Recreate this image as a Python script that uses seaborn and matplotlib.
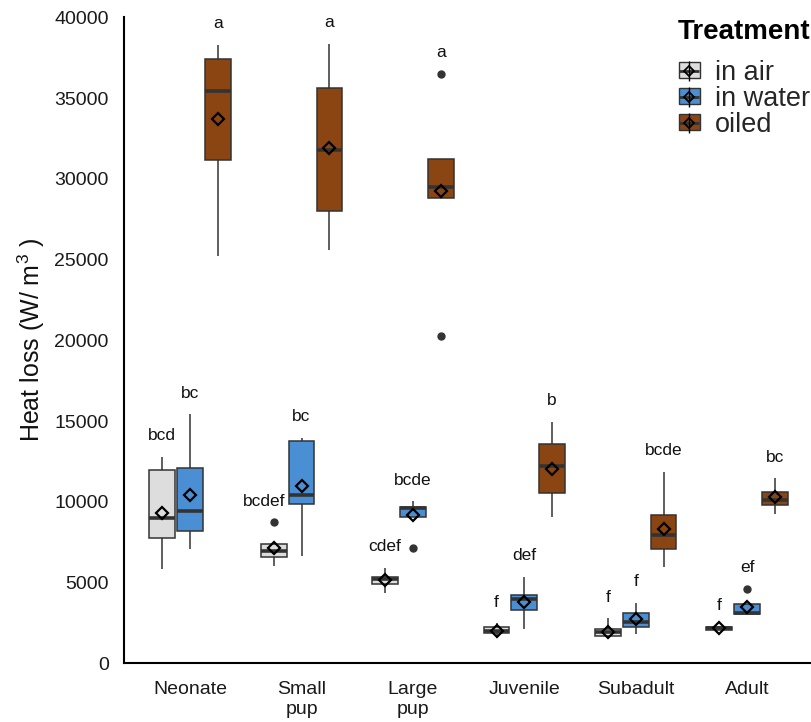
import numpy as np
import pandas as pd
import matplotlib
matplotlib.use("Agg")
import matplotlib.pyplot as plt
import seaborn as sns
from matplotlib.patches import Patch
from matplotlib.lines import Line2D
from matplotlib.legend_handler import HandlerTuple

# ---------------- data ----------------
ages = ["Neonate", "Small\npup", "Large\npup", "Juvenile", "Subadult", "Adult"]
treatments = ["in air", "in water", "oiled"]
colors = ["#DDDDDD", "#4A8FD3", "#8B4513"]

air_low      = [5855, 6040, 4332, 1547, 1547, 2040]
air_q1       = [7773, 6560, 4927, 1857, 1708, 2061]
air_median   = [9011, 6969, 5217, 2020, 1956, 2166]
air_q3       = [11963, 7364, 5341, 2247, 2141, 2265]
air_high     = [12786, 7400, 5917, 2476, 2780, 2290]
air_mean     = [9302, 7117, 5155, 2020, 1956, 2166]
air_out_low  = [None, None, None, None, None, None]
air_out_high = [None, 8726, None, None, None, None]
air_letters  = ["bcd", "bcdef", "cdef", "f", "f", "f"]

water_low      = [7055, 6641, 9074, 2141, 1813, 3051]
water_q1       = [8188, 9879, 9074, 3299, 2265, 3051]
water_median   = [9445, 10436, 9631, 3961, 2537, 3094]
water_q3       = [12066, 13758, 9693, 4227, 3131, 3670]
water_high     = [15429, 13963, 10045, 5360, 3750, 3670]
water_mean     = [10436, 10954, 9160, 3775, 2723, 3466]
water_out_low  = [None, None, 7155, None, None, None]
water_out_high = [None, None, None, None, None, 4630]
water_letters  = ["bc", "bc", "bcde", "def", "f", "ef"]

oiled_low      = [25227, 25620, 28840, 9054, 5960, 9240]
oiled_q1       = [31191, 28011, 28840, 10521, 7093, 9797]
oiled_median   = [35437, 31768, 29478, 12210, 7940, 10106]
oiled_q3       = [37399, 35624, 31211, 13553, 9160, 10620]
oiled_high     = [38308, 38370, 31211, 14953, 11858, 11450]
oiled_mean     = [33730, 31892, 29250, 12044, 8334, 10273]
oiled_out_low  = [None, None, 20257, None, None, None]
oiled_out_high = [None, None, 36513, None, None, None]
oiled_letters  = ["a", "a", "a", "b", "bcde", "bc"]

yticks = [0, 5000, 10000, 15000, 20000, 25000, 30000, 35000, 40000]

# ---------------- build tables ----------------
series = {
    "in air": (air_low, air_q1, air_median, air_q3, air_high, air_out_low, air_out_high, air_mean, air_letters),
    "in water": (water_low, water_q1, water_median, water_q3, water_high, water_out_low, water_out_high, water_mean, water_letters),
    "oiled": (oiled_low, oiled_q1, oiled_median, oiled_q3, oiled_high, oiled_out_low, oiled_out_high, oiled_mean, oiled_letters),
}

rows, mean_rows, letter_rows = [], [], []
for t in treatments:
    lo, q1, med, q3, hi, olo, ohi, mn, let = series[t]
    for i, age in enumerate(ages):
        vals = [olo[i] if olo[i] is not None else lo[i], lo[i], q1[i],
                med[i], med[i], med[i], q3[i], hi[i],
                ohi[i] if ohi[i] is not None else hi[i]]
        for v in vals:
            rows.append({"age": age, "treatment": t, "value": v})
        mean_rows.append({"age": age, "treatment": t, "mean": mn[i]})
        top = max(hi[i], ohi[i] if ohi[i] is not None else hi[i])
        letter_rows.append((i, treatments.index(t), top, let[i]))

df = pd.DataFrame(rows)
mean_df = pd.DataFrame(mean_rows)

# ---------------- plotting ----------------
sns.set_theme(style="white")
plt.rcParams["font.family"] = ["Liberation Sans", "DejaVu Sans"]
plt.rcParams["mathtext.fontset"] = "custom"
plt.rcParams["mathtext.rm"] = "Liberation Sans"
plt.rcParams["mathtext.default"] = "regular"

W, H = 811, 722
fig = plt.figure(figsize=(W / 100, H / 100), dpi=100)
ax = fig.add_axes([124 / W, 58.7 / H, 690 / W, 646 / H])

sns.boxplot(data=df, x="age", y="value", hue="treatment", order=ages,
            hue_order=treatments, palette=colors, saturation=1,
            width=0.75, gap=0.075, dodge=True, linewidth=1.1,
            linecolor="#333333", whis=1.5, fliersize=5,
            flierprops=dict(marker="o", markerfacecolor="#333333",
                            markeredgecolor="#333333"),
            medianprops=dict(linewidth=2.6, color="#333333"),
            showcaps=False, legend=False, ax=ax)

sns.pointplot(data=mean_df, x="age", y="mean", hue="treatment", order=ages,
              hue_order=treatments, palette=["black"] * 3, markers="D",
              linestyle="none", dodge=0.5, errorbar=None, markersize=6.5,
              markerfacecolor="none", markeredgewidth=1.6, legend=False,
              zorder=6, ax=ax)

hue_offsets = [-0.25, 0.0, 0.25]
for i, j, top, txt in letter_rows:
    nudge = -0.09 if (i == 1 and j == 0) else 0.0
    ax.text(i + hue_offsets[j] + nudge, top + 1300, txt, ha="center",
            va="center", fontsize=12.5, color="#111111")

ax.set_xlim(-0.594, 5.6)
ax.set_ylim(0, 40000)
ax.set_yticks(yticks)
ax.set_yticklabels([str(v) for v in yticks])
ax.set_xlabel("")
ax.set_ylabel("Heat loss (W/ m$^3$ )", fontsize=18, labelpad=5, color="#111111")

for s in ["top", "right"]:
    ax.spines[s].set_visible(False)
for s in ["left", "bottom"]:
    ax.spines[s].set_color("black")
    ax.spines[s].set_linewidth(1.5)
ax.tick_params(axis="both", length=6, width=1, color="#555555",
               labelsize=14, labelcolor="#1a1a1a", pad=5)
ax.tick_params(axis="x", pad=7)

handles = []
for c in colors:
    box = Patch(facecolor=c, edgecolor="#333333", linewidth=1.0)
    med = Line2D([], [], color="#333333", marker="_", markersize=14,
                 markeredgewidth=2, linestyle="none")
    whisk = Line2D([], [], color="black", marker="|", markersize=15,
                   markeredgewidth=1.0, linestyle="none")
    dia = Line2D([], [], color="black", marker="D", markersize=5,
                 markerfacecolor="none", markeredgewidth=1.3, linestyle="none")
    handles.append((box, med, whisk, dia))

fig.text(678 / W, 1 - 31.7 / H, "Treatment", fontsize=20, fontweight="bold",
         ha="left", va="center", color="black")

leg = fig.legend(handles, treatments,
                 handler_map={tuple: HandlerTuple(ndivide=1, pad=0)},
                 loc="upper left", bbox_to_anchor=(679 / W, 1 - 60 / H),
                 frameon=False, borderpad=0, borderaxespad=0,
                 fontsize=19.5, labelspacing=0.0, handletextpad=0.58,
                 handlelength=0.76, handleheight=0.54)

fig.savefig("out.png", dpi=100)
